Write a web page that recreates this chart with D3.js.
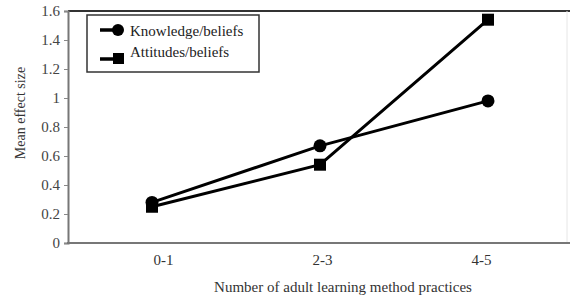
<!DOCTYPE html>
<html>
<head>
<meta charset="utf-8">
<script src="https://cdn.jsdelivr.net/npm/d3@7"></script>
<style>
  body { margin: 0; background: #fff; }
  text { font-family: "Liberation Serif", "Times New Roman", serif; }
</style>
</head>
<body>
<div class="chart"></div>
<script>
// chart data
var categories = ["0-1", "2-3", "4-5"];
var knowledge = [0.28, 0.67, 0.98];
var attitudes = [0.25, 0.54, 1.54];
var yTicks = [0, 0.2, 0.4, 0.6, 0.8, 1, 1.2, 1.4, 1.6];
var seriesNames = ["Knowledge/beliefs", "Attitudes/beliefs"];

var svgWidth = 570, svgHeight = 297;
var plotLeft = 68, plotRight = 567, plotTop = 11, plotBottom = 243;

var svg = d3.select(".chart").append("svg")
  .attr("width", svgWidth)
  .attr("height", svgHeight);

var y = d3.scaleLinear().domain([0, 1.6]).range([plotBottom, plotTop]);
var x = d3.scalePoint().domain(categories).range([152, 488]);
// category labels sit a little off the points in the original
var xLab = d3.scalePoint().domain(categories).range([163, 481]);

// frame
svg.append("line").attr("x1", plotLeft).attr("x2", 570).attr("y1", plotTop).attr("y2", plotTop)
  .attr("stroke", "#333").attr("stroke-width", 2);
svg.append("line").attr("x1", plotRight).attr("x2", plotRight).attr("y1", plotTop).attr("y2", plotBottom)
  .attr("stroke", "#e6e6e6").attr("stroke-width", 1);

// y axis
var yAxis = svg.append("g")
  .attr("transform", "translate(" + plotLeft + ",0)")
  .call(d3.axisLeft(y).tickValues(yTicks).tickSize(4).tickPadding(4)
    .tickFormat(function(d) { return String(+d.toFixed(1)); }));
yAxis.select(".domain").attr("stroke", "#777").attr("stroke-width", 2);
yAxis.selectAll(".tick line").attr("stroke", "#888");
yAxis.selectAll(".tick text").attr("fill", "#444").style("font-size", "15px")
  .style("font-family", "Liberation Serif");

// x axis (no ticks)
var xAxis = svg.append("g")
  .attr("transform", "translate(0," + plotBottom + ")")
  .call(d3.axisBottom(xLab).tickSize(0).tickPadding(11));
xAxis.select(".domain").remove();
svg.append("line").attr("x1", plotLeft - 1).attr("x2", 570).attr("y1", plotBottom).attr("y2", plotBottom)
  .attr("stroke", "#777").attr("stroke-width", 2);
xAxis.selectAll(".tick text").attr("fill", "#333").style("font-size", "15px")
  .style("font-family", "Liberation Serif");

// axis titles
svg.append("text")
  .attr("transform", "translate(20," + 113 + ") rotate(-90)")
  .attr("text-anchor", "middle")
  .attr("dy", "0.35em")
  .style("font-size", "14px")
  .attr("fill", "#333")
  .text("Mean effect size");

svg.append("text")
  .attr("x", 343).attr("y", 292)
  .attr("text-anchor", "middle")
  .style("font-size", "15px")
  .attr("fill", "#333")
  .text("Number of adult learning method practices");

// lines
var line = d3.line()
  .x(function(d, i) { return x(categories[i]); })
  .y(function(d) { return y(d); });

svg.append("path").datum(knowledge).attr("d", line)
  .attr("fill", "none").attr("stroke", "#000").attr("stroke-width", 3);
svg.append("path").datum(attitudes).attr("d", line)
  .attr("fill", "none").attr("stroke", "#000").attr("stroke-width", 3);

svg.selectAll(".kdot").data(knowledge).enter().append("circle")
  .attr("class", "kdot")
  .attr("cx", function(d, i) { return x(categories[i]); })
  .attr("cy", function(d) { return y(d); })
  .attr("r", 6.5).attr("fill", "#000");

svg.selectAll(".asq").data(attitudes).enter().append("rect")
  .attr("class", "asq")
  .attr("x", function(d, i) { return x(categories[i]) - 6; })
  .attr("y", function(d) { return y(d) - 6; })
  .attr("width", 12).attr("height", 12).attr("fill", "#000");

// legend
var legend = svg.append("g");
legend.append("rect").attr("x", 87).attr("y", 15).attr("width", 172).attr("height", 57)
  .attr("fill", "#fff").attr("stroke", "#333").attr("stroke-width", 1.5);

legend.append("line").attr("x1", 100).attr("x2", 117).attr("y1", 30).attr("y2", 30)
  .attr("stroke", "#000").attr("stroke-width", 3.5);
legend.append("circle").attr("cx", 118).attr("cy", 30).attr("r", 6).attr("fill", "#000");
legend.append("text").attr("x", 130).attr("y", 36).style("font-size", "15px")
  .attr("fill", "#222").text(seriesNames[0]);

legend.append("line").attr("x1", 100).attr("x2", 117).attr("y1", 59).attr("y2", 59)
  .attr("stroke", "#000").attr("stroke-width", 3.5);
legend.append("rect").attr("x", 113).attr("y", 53).attr("width", 11).attr("height", 11).attr("fill", "#000");
legend.append("text").attr("x", 130).attr("y", 57).style("font-size", "15px")
  .attr("fill", "#222").text(seriesNames[1]);
</script>
</body>
</html>
